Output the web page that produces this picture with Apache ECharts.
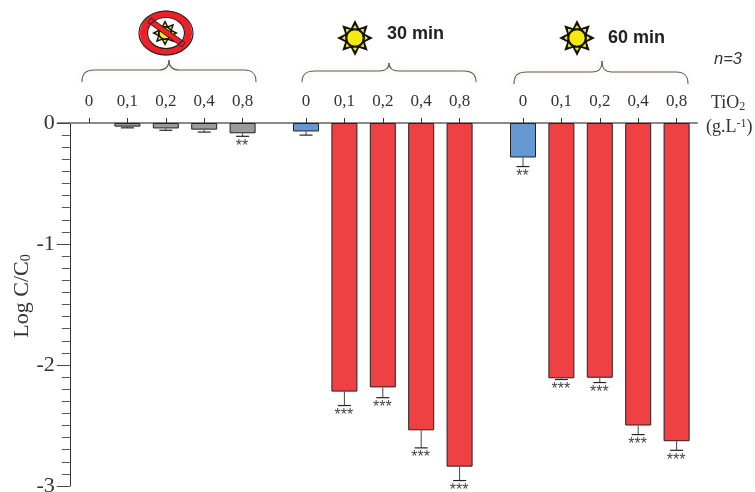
<!DOCTYPE html>
<html><head><meta charset="utf-8">
<style>html,body{margin:0;padding:0;background:#fff}#c{width:755px;height:492px}</style>
<script src="https://cdn.jsdelivr.net/npm/echarts@6/dist/echarts.min.js"></script>
</head><body><div id="c"></div>
<script>
const doses = ['0','0,1','0,2','0,4','0,8'];
const darkValues = [0, -0.03, -0.045, -0.055, -0.085];
const darkErrors = [null, -0.04, -0.06, -0.075, -0.11];
const darkStars = ['', '', '', '', '**'];
const min30Values = [-0.07, -2.22, -2.185, -2.54, -2.84];
const min30Errors = [-0.1, -2.335, -2.27, -2.685, -2.955];
const min30Stars = ['', '***', '***', '***', '***'];
const min60Values = [-0.285, -2.11, -2.105, -2.5, -2.63];
const min60Errors = [-0.36, -2.12, -2.145, -2.575, -2.705];
const min60Stars = ['**', '***', '***', '***', '***'];

const GRAY='#9a9a9c', BLUE='#6598d2', RED='#ef4044', INK='#222';
const SERIF='"Liberation Serif",serif', SANS='"Liberation Sans",sans-serif';
const TOP=123, H=363, BAND=192;
const lefts=[69.8,286.8,503.8];

function errSeries(i, errs, stars){
  return {type:'custom',xAxisIndex:i,yAxisIndex:i,silent:true,z:3,clip:false,
    data:errs.map((e,k)=>[k,e]).filter(d=>d[1]!==null),
    encode:{x:0,y:1},
    renderItem(params,api){
      const x=api.value(0), e=api.value(1), s=stars[x];
      const vals=[darkValues,min30Values,min60Values][i];
      const a=api.coord([x,vals[x]]), b=api.coord([x,e]);
      const ch=[
        {type:'line',shape:{x1:a[0],y1:a[1],x2:b[0],y2:b[1]},style:{stroke:'#444',lineWidth:1}},
        {type:'line',shape:{x1:b[0]-6.5,y1:b[1],x2:b[0]+6.5,y2:b[1]},style:{stroke:INK,lineWidth:1.2}}
      ];
      if(s) ch.push({type:'text',style:{text:s,x:b[0]-0.5,y:b[1]+10,align:'center',verticalAlign:'middle',fill:'#444',font:'16px '+SANS}});
      return {type:'group',children:ch};
    }};
}
function barSeries(i, vals, colors){
  return {type:'bar',xAxisIndex:i,yAxisIndex:i,barWidth:26,silent:true,z:2,
    data:vals.map((v,k)=>({value:v,itemStyle:{color:colors[k],borderColor:INK,borderWidth:v===0?0:1}}))};
}
function xAx(i){return {gridIndex:i,type:'category',data:doses,position:'top',
  axisLine:{show:false},axisTick:{show:true,alignWithLabel:true,length:5,lineStyle:{color:'#333',width:1}},
  axisLabel:{show:true,interval:0,margin:13,color:'#333',fontFamily:SERIF,fontSize:17}};}
function yAx(i,show){return {gridIndex:i,type:'value',min:-3,max:0,interval:1,show,
  splitLine:{show:false},
  axisLine:{show:true,onZero:false,lineStyle:{color:'#333',width:1}},
  axisTick:{show:true,length:13,lineStyle:{color:'#444',width:1}},
  minorTick:{show:true,splitNumber:10,length:8,lineStyle:{color:'#555',width:1}},
  axisLabel:{color:'#333',fontFamily:SERIF,fontSize:22,margin:15,padding:[4,0,0,0],formatter:v=>String(v)}
};}

function brace(x0,xt,x1,yt,yl,ye){
  const style={fill:null,stroke:'#4d5f66',lineWidth:1.1,shadowBlur:6,shadowColor:'rgba(240,190,170,.7)'};
  const bz=(a,b,c,d,e,f,g,h)=>({type:'bezierCurve',shape:{x1:a,y1:b,cpx1:c,cpy1:d,cpx2:e,cpy2:f,x2:g,y2:h},style});
  const ln=(a,b,c,d)=>({type:'line',shape:{x1:a,y1:b,x2:c,y2:d},style});
  return {type:'group',children:[
    bz(x0,ye,x0,yl+3,x0+4,yl,x0+13,yl), ln(x0+13,yl,xt-10,yl),
    bz(xt-10,yl,xt-4,yl,xt,yl-2,xt,yt), bz(xt,yt,xt,yl-2,xt+4,yl,xt+10,yl),
    ln(xt+10,yl,x1-12,yl), bz(x1-12,yl,x1-4,yl,x1,yl+3,x1,ye)
  ]};
}
function sun(cx,cy,k,z){
  const ch=[]; z=z||10;
  for(let n=0;n<8;n++){
    const t=n*Math.PI/4, c=Math.cos(t), s=Math.sin(t), nx=-s, ny=c, L=18;
    const P=(r,w)=>[r*c+w*nx,r*s+w*ny];
    ch.push({type:'polygon',z,shape:{points:[P(7*k,-5.5*k),P(L*k,0),P(7*k,5.5*k)]},style:{fill:'#111'}});
    ch.push({type:'polygon',z,shape:{points:[P(9.8*k,-2.2*k),P((L-6)*k+1,0),P(9.8*k,2.2*k)]},style:{fill:'#f5e90f'}});
  }
  ch.push({type:'circle',z,shape:{cx:0,cy:0,r:8.2*k},style:{fill:'#f5e90f',stroke:'#111',lineWidth:1}});
  return {type:'group',x:cx,y:cy,children:ch};
}
const graphics=[
  brace(82,169,256,60,70,82),
  brace(302,389,476,63,71,82),
  brace(514,602,688,61,72,84),
  {type:'ellipse',z:9,shape:{cx:166,cy:33,rx:22.6,ry:19},style:{fill:'#fff',stroke:'#ee1f25',lineWidth:7}},
  {type:'ellipse',z:12,shape:{cx:166,cy:33,rx:27,ry:22},style:{fill:null,stroke:'#222',lineWidth:1.2}},
  {type:'ellipse',z:12,shape:{cx:166,cy:33,rx:18.5,ry:15.5},style:{fill:null,stroke:'#222',lineWidth:1.2}},
  sun(165,33,.72,10),
  {type:'polygon',z:11,shape:{points:[[148,22.5],[151,18],[185,42.5],[182,47]]},style:{fill:'#ee1f25',stroke:'#222',lineWidth:1}},
  sun(355,38,1),
  sun(577,38,1),
  {type:'text',style:{text:'30 min',x:387,y:34,verticalAlign:'middle',font:'bold 18px '+SANS,fill:'#222'}},
  {type:'text',style:{text:'60 min',x:608,y:38,verticalAlign:'middle',font:'bold 18px '+SANS,fill:'#222'}},
  {type:'text',style:{text:'n=3',x:714,y:59,verticalAlign:'middle',font:'italic 16.5px '+SANS,fill:'#333'}},
  {type:'text',style:{rich:{a:{fontFamily:SERIF,fontSize:18,fill:'#333'},s:{fontFamily:SERIF,fontSize:12,fill:'#333',padding:[7,0,0,0]}},text:'{a|TiO}{s|2}',x:711,y:103,verticalAlign:'middle'}},
  {type:'text',style:{rich:{a:{fontFamily:SERIF,fontSize:18,fill:'#333'},s:{fontFamily:SERIF,fontSize:12,fill:'#333',padding:[0,0,6,0]}},text:'{a|(g.L}{s|-1}{a|)}',x:706,y:127,verticalAlign:'middle'}},
  {type:'text',x:22,y:296,rotation:Math.PI/2,style:{rich:{a:{fontFamily:SERIF,fontSize:22,fill:'#333'},s:{fontFamily:SERIF,fontSize:14,fill:'#333',padding:[8,0,0,0]}},text:'{a|Log C/C}{s|0}',align:'center',verticalAlign:'middle'}}
];

const chart=echarts.init(document.getElementById('c'),null,{renderer:'canvas'});
chart.setOption({
  animation:false,backgroundColor:'#fff',
  grid:[...lefts.map(l=>({left:l,top:TOP,width:BAND,height:H,outerBoundsMode:'none'})),{left:58,top:TOP,width:639,height:H,outerBoundsMode:'none'}],
  xAxis:[xAx(0),xAx(1),xAx(2),{gridIndex:3,type:'value',min:0,max:1,position:'top',
    axisLine:{show:true,onZero:false,lineStyle:{color:'#8a8a8a',width:2}},axisTick:{show:false},axisLabel:{show:false},splitLine:{show:false}}],
  yAxis:[yAx(0,true),yAx(1,false),yAx(2,false),{gridIndex:3,type:'value',min:-3,max:0,show:false}],
  series:[
    barSeries(0,darkValues,doses.map(()=>GRAY)),
    barSeries(1,min30Values,[BLUE,RED,RED,RED,RED]),
    barSeries(2,min60Values,[BLUE,RED,RED,RED,RED]),
    errSeries(0,darkErrors,darkStars),
    errSeries(1,min30Errors,min30Stars),
    errSeries(2,min60Errors,min60Stars)
  ],
  graphic:{elements:graphics}
});
</script></body></html>
